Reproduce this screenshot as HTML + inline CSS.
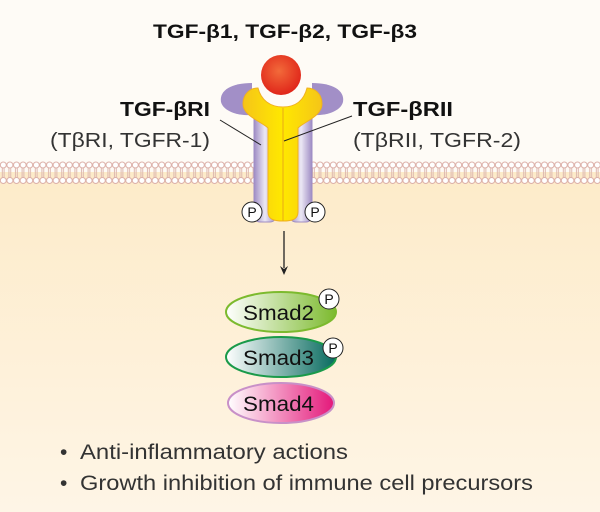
<!DOCTYPE html>
<html><head><style>body{margin:0}svg{display:block}</style></head><body>
<svg width="600" height="512" viewBox="0 0 600 512" xmlns="http://www.w3.org/2000/svg" font-family="Liberation Sans, sans-serif">
<defs>
<linearGradient id="bg" x1="0" y1="0" x2="0" y2="1"><stop offset="0" stop-color="#fdebc9"/><stop offset="1" stop-color="#fef5e6"/></linearGradient>
<pattern id="mem" x="0" y="161" width="6.6" height="24" patternUnits="userSpaceOnUse">
<rect x="1.8" y="3" width="1" height="18" fill="#ddb8b0"/><rect x="3.6" y="3" width="1" height="18" fill="#ddb8b0"/>
<circle cx="3.3" cy="4" r="3" fill="#fff" stroke="#dcb0a8" stroke-width="1"/>
<circle cx="3.3" cy="19.5" r="3" fill="#fff" stroke="#dcb0a8" stroke-width="1"/>
</pattern>
<radialGradient id="red" cx="0.45" cy="0.4" r="0.6"><stop offset="0" stop-color="#f26a3a"/><stop offset="1" stop-color="#e0261a"/></radialGradient>
<linearGradient id="col" x1="0" x2="1"><stop offset="0" stop-color="#9e8cc4"/><stop offset="0.5" stop-color="#ece8f4"/><stop offset="1" stop-color="#9e8cc4"/></linearGradient>
<linearGradient id="yel" x1="0" x2="1"><stop offset="0" stop-color="#f5c518"/><stop offset="0.5" stop-color="#ffe800"/><stop offset="1" stop-color="#f5c518"/></linearGradient>
<linearGradient id="s2" x1="0" x2="1"><stop offset="0" stop-color="#fff"/><stop offset="1" stop-color="#7cba2e"/></linearGradient>
<linearGradient id="s3" x1="0" x2="1"><stop offset="0" stop-color="#fff"/><stop offset="1" stop-color="#066a5e"/></linearGradient>
<linearGradient id="s4" x1="0" x2="1"><stop offset="0" stop-color="#fff"/><stop offset="1" stop-color="#e4187a"/></linearGradient>
</defs>
<rect width="600" height="512" fill="#fefbf6"/>
<rect y="172" width="600" height="340" fill="url(#bg)"/>
<rect y="161" width="600" height="24" fill="url(#mem)"/>
<text x="153" y="38" font-size="19" font-weight="bold" fill="#111" textLength="264" lengthAdjust="spacingAndGlyphs">TGF-β1, TGF-β2, TGF-β3</text>
<text x="120" y="116" font-size="20" font-weight="bold" fill="#111" textLength="90" lengthAdjust="spacingAndGlyphs">TGF-βRI</text>
<text x="50" y="147" font-size="20" fill="#333" textLength="160" lengthAdjust="spacingAndGlyphs">(TβRI, TGFR-1)</text>
<text x="353" y="116" font-size="20" font-weight="bold" fill="#111" textLength="100" lengthAdjust="spacingAndGlyphs">TGF-βRII</text>
<text x="353" y="147" font-size="20" fill="#333" textLength="168" lengthAdjust="spacingAndGlyphs">(TβRII, TGFR-2)</text>
<!-- receptor -->
<path d="M252,83 C232,83 219,90 221,102 C224,113 242,116 252,115 Z" fill="#a28fc7"/>
<path d="M312,83 C332,83 345,90 343,102 C340,113 322,116 312,115 Z" fill="#a28fc7"/>
<rect x="254" y="112" width="22" height="110" rx="6" fill="url(#col)" stroke="#9e8cc4"/>
<rect x="290" y="112" width="22" height="110" rx="6" fill="url(#col)" stroke="#9e8cc4"/>
<path d="M258,88 C250,88 243,94 243,104 C243,116 262,122 268,128 L268,212 C268,220 275,221 283,221 C291,221 298,220 298,212 L298,128 C304,122 322,116 322,104 C322,94 315,88 307,88 C304,100 296,107 283,107 C270,107 261,100 258,88 Z" fill="url(#yel)" stroke="#f0b020"/>
<line x1="283" y1="108" x2="283" y2="221" stroke="#e8a818" stroke-width="1"/>
<circle cx="281" cy="75" r="20" fill="url(#red)"/>
<line x1="220" y1="120" x2="261" y2="145" stroke="#222" stroke-width="1"/>
<line x1="352" y1="116" x2="284" y2="141" stroke="#222" stroke-width="1"/>
<g font-size="14" text-anchor="middle" fill="#111">
<circle cx="252" cy="212" r="10" fill="#fff" stroke="#222"/><text x="252" y="217">P</text>
<circle cx="315" cy="212" r="10" fill="#fff" stroke="#222"/><text x="315" y="217">P</text>
</g>
<line x1="284" y1="231" x2="284" y2="268" stroke="#222" stroke-width="1.3"/>
<path d="M280,266 L284,275 L288,266 L284,269 Z" fill="#222"/>
<ellipse cx="281" cy="312" rx="55" ry="20" fill="url(#s2)" stroke="#7cba2e" stroke-width="2"/>
<ellipse cx="281" cy="357" rx="55" ry="20" fill="url(#s3)" stroke="#1a9a4a" stroke-width="2"/>
<ellipse cx="281" cy="403" rx="53" ry="20" fill="url(#s4)" stroke="#c890c8" stroke-width="2"/>
<g font-size="21" fill="#111">
<text x="243" y="320" textLength="71" lengthAdjust="spacingAndGlyphs">Smad2</text>
<text x="243" y="365" textLength="71" lengthAdjust="spacingAndGlyphs">Smad3</text>
<text x="243" y="411" textLength="71" lengthAdjust="spacingAndGlyphs">Smad4</text>
</g>
<g font-size="14" text-anchor="middle" fill="#111">
<circle cx="329" cy="299" r="10" fill="#fff" stroke="#222"/><text x="329" y="304">P</text>
<circle cx="333" cy="348" r="10" fill="#fff" stroke="#222"/><text x="333" y="353">P</text>
</g>
<g font-size="21" fill="#333">
<text x="60" y="459">•</text><text x="80" y="459" textLength="268" lengthAdjust="spacingAndGlyphs">Anti-inflammatory actions</text>
<text x="60" y="490">•</text><text x="80" y="490" textLength="453" lengthAdjust="spacingAndGlyphs">Growth inhibition of immune cell precursors</text>
</g>
</svg>
</body></html>
